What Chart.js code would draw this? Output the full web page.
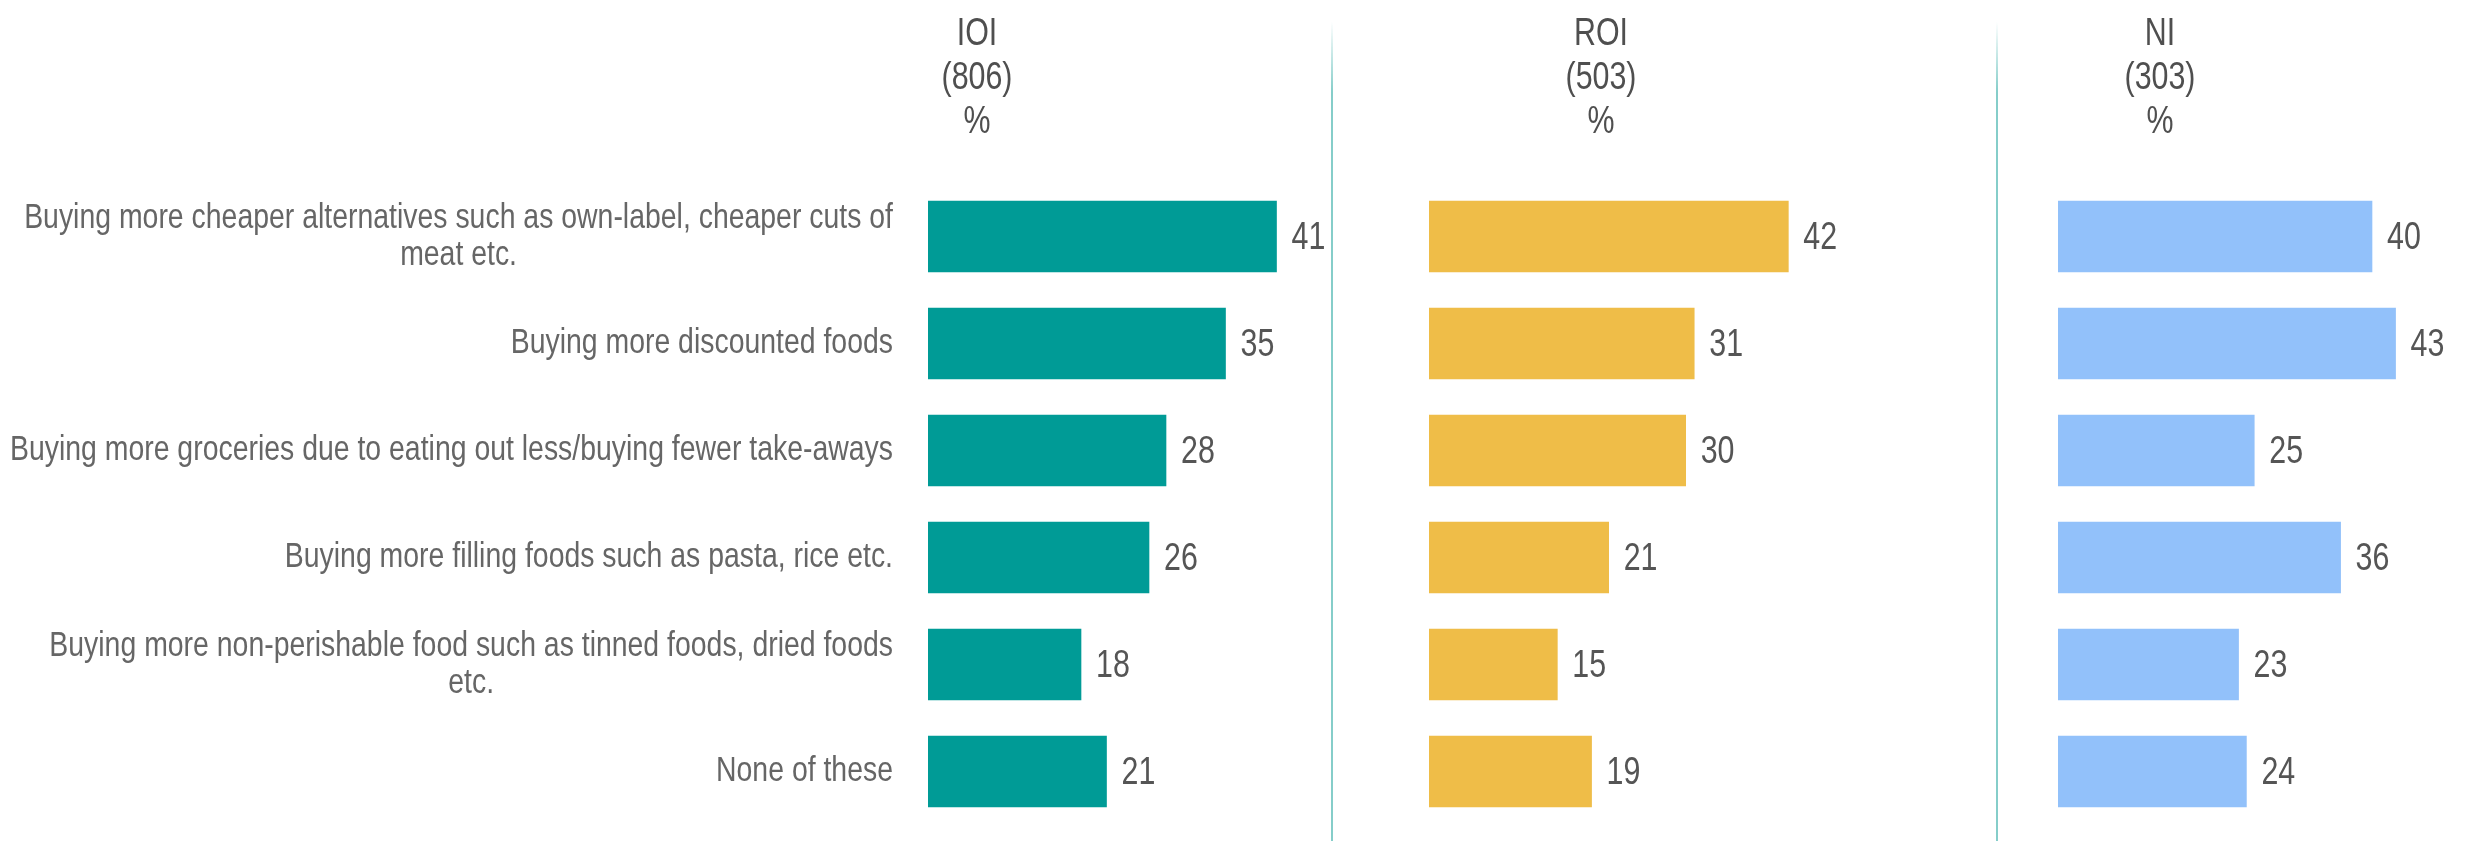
<!DOCTYPE html>
<html lang="en">
<head>
    <meta charset="UTF-8">
    <title>Changes in food buying</title>
    <script src="https://cdn.jsdelivr.net/npm/chart.js"></script>
    <style>
        body {
            margin: 0;
            width: 2475px;
            height: 841px;
            background: #fff;
            position: relative;
            overflow: hidden;
            font-family: 'Liberation Sans', Arial, sans-serif;
        }
        canvas {
            position: absolute;
            top: 0;
        }
        .head {
            position: absolute;
            top: 10px;
            width: 200px;
            margin-left: -100px;
            text-align: center;
            color: #4f4f4f;
            font-size: 38px;
            line-height: 44px;
            transform: scaleX(0.8);
        }
        .sep {
            position: absolute;
            top: 22px;
            bottom: 0;
            width: 2px;
            background: linear-gradient(to bottom, rgba(120, 200, 196, 0), rgba(120, 200, 196, 0.9) 70px);
        }
    </style>
</head>
<body>
    <canvas id="ioiChart" width="1333" height="841" style="left:0"></canvas>
    <canvas id="roiChart" width="664" height="841" style="left:1333px"></canvas>
    <canvas id="niChart" width="478" height="841" style="left:1997px"></canvas>
    <div class="sep" style="left:1331px"></div>
    <div class="sep" style="left:1996px"></div>
    <div id="heads"></div>
    <script>
        const categories = [
            ['Buying more cheaper alternatives such as own-label, cheaper cuts of', 'meat etc.'],
            'Buying more discounted foods',
            'Buying more groceries due to eating out less/buying fewer take-aways',
            'Buying more filling foods such as pasta, rice etc.',
            ['Buying more non-perishable food such as tinned foods, dried foods', 'etc.'],
            'None of these'
        ];
        const ioiValues = [41, 35, 28, 26, 18, 21];
        const roiValues = [42, 31, 30, 21, 15, 19];
        const niValues = [40, 43, 25, 36, 23, 24];
        const groupNames = ['IOI', 'ROI', 'NI'];
        const groupBases = ['(806)', '(503)', '(303)'];

        const FONT = "'Liberation Sans', Arial, sans-serif";

        // column headers
        const headX = [977, 1601, 2160];
        const heads = document.getElementById('heads');
        groupNames.forEach((name, i) => {
            const d = document.createElement('div');
            d.className = 'head';
            d.style.left = headX[i] + 'px';
            d.innerHTML = name + '<br>' + groupBases[i] + '<br>%';
            heads.appendChild(d);
        });

        // the original uses a condensed face, so squeeze the text
        function narrowText(ctx, text, x, y, sx) {
            ctx.save();
            ctx.translate(x, y);
            ctx.scale(sx, 1);
            ctx.fillText(text, 0, 0);
            ctx.restore();
        }

        // number after each bar
        const valueLabels = {
            id: 'valueLabels',
            afterDatasetsDraw(chart) {
                const ctx = chart.ctx;
                const meta = chart.getDatasetMeta(0);
                ctx.save();
                ctx.font = '38px ' + FONT;
                ctx.fillStyle = '#555';
                ctx.textBaseline = 'middle';
                ctx.textAlign = 'left';
                meta.data.forEach((bar, i) => {
                    narrowText(ctx, chart.data.datasets[0].data[i], bar.x + 15, bar.y + 2, 0.8);
                });
                ctx.restore();
            }
        };

        // category text, centred lines, right edge next to the bars
        const categoryLabels = {
            id: 'categoryLabels',
            afterDraw(chart) {
                const ctx = chart.ctx;
                const sx = 0.812;
                ctx.save();
                ctx.font = '35px ' + FONT;
                ctx.fillStyle = '#666';
                ctx.textBaseline = 'middle';
                ctx.textAlign = 'center';
                chart.data.labels.forEach((label, i) => {
                    const lines = Array.isArray(label) ? label : [label];
                    const y = chart.scales.y.getPixelForValue(i);
                    const w = Math.max(...lines.map(l => ctx.measureText(l).width)) * sx;
                    const cx = chart.chartArea.left - 35 - w / 2;
                    lines.forEach((l, j) => {
                        narrowText(ctx, l, cx, y + (j - (lines.length - 1) / 2) * 37, sx);
                    });
                });
                ctx.restore();
            }
        };

        function makeChart(id, values, color, max, padLeft, padRight, withLabels) {
            const plugins = [valueLabels];
            if (withLabels) plugins.push(categoryLabels);
            return new Chart(document.getElementById(id), {
                type: 'bar',
                data: {
                    labels: categories,
                    datasets: [{
                        data: values,
                        backgroundColor: color,
                        barThickness: 71
                    }]
                },
                options: {
                    indexAxis: 'y',
                    responsive: false,
                    animation: false,
                    layout: {
                        padding: { left: padLeft, right: padRight, top: 183, bottom: 16 }
                    },
                    scales: {
                        x: { display: false, min: 0, max: max },
                        y: { display: false }
                    },
                    plugins: {
                        legend: { display: false },
                        tooltip: { enabled: false }
                    }
                },
                plugins: plugins
            });
        }

        makeChart('ioiChart', ioiValues, '#009b96', 45, 928, 22.5, true);
        makeChart('roiChart', roiValues, '#efbd48', 45, 96, 183, false);
        makeChart('niChart', niValues, '#92c1fa', 50, 61, 24.5, false);
    </script>
</body>
</html>
